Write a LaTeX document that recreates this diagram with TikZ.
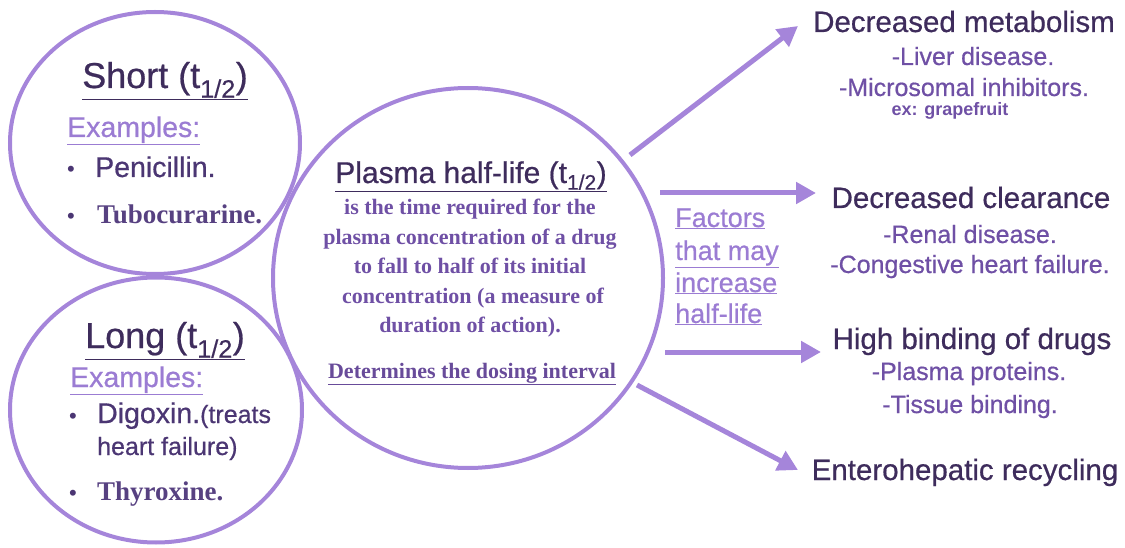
\documentclass[tikz,border=0pt]{standalone}
\usepackage{fontspec}
\setmainfont{Liberation Serif}
\setsansfont{Liberation Sans}
\newfontfamily\hsf{Liberation Sans}[FakeBold=0.6]
\usetikzlibrary{shapes.geometric,arrows.meta}
\definecolor{lav}{HTML}{A585DA}
\definecolor{dk}{HTML}{3E2C5C}
\definecolor{dkb}{HTML}{4B3673}
\definecolor{md}{HTML}{6F50A5}
\definecolor{lt}{HTML}{9B7CD3}
\newcommand\thalf{(t\textsubscript{1/2})}
\begin{document}
\begin{tikzpicture}[x=1pt,y=-1pt,
  ring/.style={draw=lav, line width=4pt, ellipse, inner sep=0pt},
  arr/.style={draw=lav, line width=5pt, -{Triangle[length=20pt,width=21pt]}},
  txt/.style={anchor=base, inner sep=0pt},
  lft/.style={anchor=base west, inner sep=0pt},
  big/.style={font=\hsf\fontsize{36}{40}\selectfont, text=dk},
  head/.style={font=\hsf\fontsize{29.5}{35}\selectfont, text=dk},
  exm/.style={font=\hsf\fontsize{28.5}{32}\selectfont, text=lt},
  item/.style={font=\hsf\fontsize{28.5}{32}\selectfont, text=dkb},
  sitem/.style={font=\hsf\fontsize{25}{30}\selectfont, text=dkb},
  seritem/.style={font=\rmfamily\bfseries\fontsize{27}{32}\selectfont, text=dkb!85!lt},
  bul/.style={font=\sffamily\fontsize{22}{26}\selectfont, text=dkb, anchor=base, inner sep=0pt},
  sub/.style={font=\hsf\fontsize{25}{30}\selectfont, text=md},
  tiny/.style={font=\sffamily\bfseries\fontsize{18}{22}\selectfont, text=md},
  body/.style={font=\rmfamily\bfseries\fontsize{22}{26}\selectfont, text=md},
  fac/.style={font=\hsf\fontsize{27}{32}\selectfont, text=lt}
]
\useasboundingbox (0,0) rectangle (1125,548);

% circles
\node[ring, minimum width=290pt, minimum height=262pt] (shortc) at (155,143) {};
\node[ring, minimum width=292pt, minimum height=265pt] (longc) at (156,410) {};
\node[ring, minimum width=390pt, minimum height=380pt] (plasc) at (468,278) {};

% short circle text
\node[txt, big] (short) at (165,88) {\underline{Short \thalf}};
\node[lft, exm] (ex1) at (67,137) {\underline{Examples:}};
\node[bul] (b1) at (71,177) {•};
\node[lft, item] (pen) at (95,177) {Penicillin.};
\node[bul] (b2) at (71,224) {•};
\node[lft, seritem] (tub) at (97,224) {Tubocurarine.};

% long circle text
\node[txt, big] (long) at (165,348) {\underline{Long \thalf}};
\node[lft, exm] (ex2) at (70,387) {\underline{Examples:}};
\node[bul] (b3) at (73,423) {•};
\node[lft, item] (dig) at (97,423) {Digoxin.{\fontsize{25}{30}\selectfont(treats}};
\node[lft, sitem] (hf) at (97,455) {heart failure)};
\node[bul] (b4) at (73,500) {•};
\node[lft, seritem] (thy) at (97,500) {Thyroxine.};

% central circle text
\node[txt, font=\hsf\fontsize{30}{34}\selectfont, text=dk] (plas) at (471,183) {\underline{Plasma half-life \thalf}};
\node[txt, body] (l1) at (470,215) {is the time required for the};
\node[txt, body] (l2) at (470,245) {plasma concentration of a drug};
\node[txt, body] (l3) at (470,273) {to fall to half of its initial};
\node[txt, body] (l4) at (473,303) {concentration (a measure of};
\node[txt, body] (l5) at (470,332) {duration of action).};
\node[txt, body, text=md!85!dk] (det) at (472,378) {\underline{Determines the dosing interval}};

% factors
\node[lft, fac] (f1) at (675,227) {\underline{Factors}};
\node[lft, fac] (f2) at (675,260) {\underline{that may}};
\node[lft, fac] (f3) at (675,292) {\underline{increase}};
\node[lft, fac] (f4) at (675,323) {\underline{half-life}};

% right side
\node[txt, head] (dm) at (964,32) {Decreased metabolism};
\node[txt, sub] (dm1) at (973,65) {-Liver disease.};
\node[txt, sub] (dm2) at (964,96) {-Microsomal inhibitors.};
\node[txt, tiny] (dm3) at (950,116) {ex: grapefruit};

\node[txt, head] (dc) at (971,208) {Decreased clearance};
\node[txt, sub] (dc1) at (970,243) {-Renal disease.};
\node[txt, sub] (dc2) at (970,273) {-Congestive heart failure.};

\node[txt, head] (hb) at (972,349) {High binding of drugs};
\node[txt, sub] (hb1) at (969,380) {-Plasma proteins.};
\node[txt, sub] (hb2) at (970,413) {-Tissue binding.};

\node[txt, head] (er) at (965,480) {Enterohepatic recycling};

% arrows
\coordinate (s1) at (630,155);
\coordinate (e1) at (798,26);
\coordinate (s2) at (660,193);
\coordinate (e2) at (816,193);
\coordinate (s3) at (665,352);
\coordinate (e3) at (821,352);
\coordinate (s4) at (637,385);
\coordinate (e4) at (798,470);
\draw[arr] (s1) -- (e1);
\draw[arr] (s2) -- (e2);
\draw[arr] (s3) -- (e3);
\draw[arr] (s4) -- (e4);
\end{tikzpicture}
\end{document}
